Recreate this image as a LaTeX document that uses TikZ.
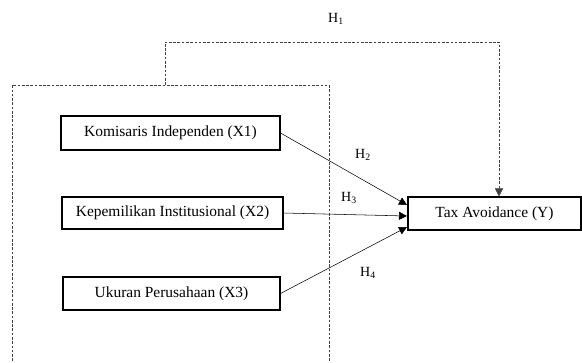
\documentclass[tikz,border=0pt]{standalone}
\usepackage{fontspec}
\setmainfont{Liberation Serif}
\usetikzlibrary{arrows.meta}
\tikzset{
  varbox/.style={draw,thick,inner sep=0pt,font=\fontsize{11.6}{14}\selectfont},
  hlab/.style={inner sep=0pt,font=\fontsize{10.5}{12}\selectfont},
  grpline/.style={draw=black!75,dash pattern=on 2pt off 1.2pt,thin}
}
\begin{document}
\begin{tikzpicture}[x=0.75pt,y=-0.75pt,>={Triangle[length=6pt,width=6pt]}]
\useasboundingbox (0,0) rectangle (582,362);
% independent variables
\node[varbox,minimum width=219*0.75pt,minimum height=34*0.75pt] (kom) at (170.5,133) {Komisaris Independen (X1)};
\node[varbox,minimum width=221*0.75pt,minimum height=32*0.75pt] (kep) at (172.5,213) {Kepemilikan Institusional (X2)};
\node[varbox,minimum width=217*0.75pt,minimum height=33*0.75pt] (uku) at (171.5,293.5) {Ukuran Perusahaan (X3)};
% dependent variable
\node[varbox,minimum width=173*0.75pt,minimum height=33*0.75pt] (tax) at (494.5,213.5) {Tax Avoidance (Y)};
% group box and simultaneous path
\draw[grpline] (12,361) -- (12,85) -- (329,85) -- (329,361);
\coordinate (h1a) at (165,85);
\coordinate (h1b) at (499,42);
\draw[grpline,->] (h1a) -- (h1a|-h1b) -- (h1b) -- (h1b|-tax.north);
% partial paths
\coordinate (t2) at (407,205);
\coordinate (t3) at (407,216);
\coordinate (t4) at (407,227);
\draw[->] (kom.east) -- (t2);
\draw[->] (kep.east) -- (t3);
\draw[->] (uku.east) -- (t4);
% labels
\node[hlab] (h1) at (336,19) {H\textsubscript{1}};
\node[hlab] (h2) at (363,155) {H\textsubscript{2}};
\node[hlab] (h3) at (349,198) {H\textsubscript{3}};
\node[hlab] (h4) at (368,273) {H\textsubscript{4}};
\end{tikzpicture}
\end{document}
